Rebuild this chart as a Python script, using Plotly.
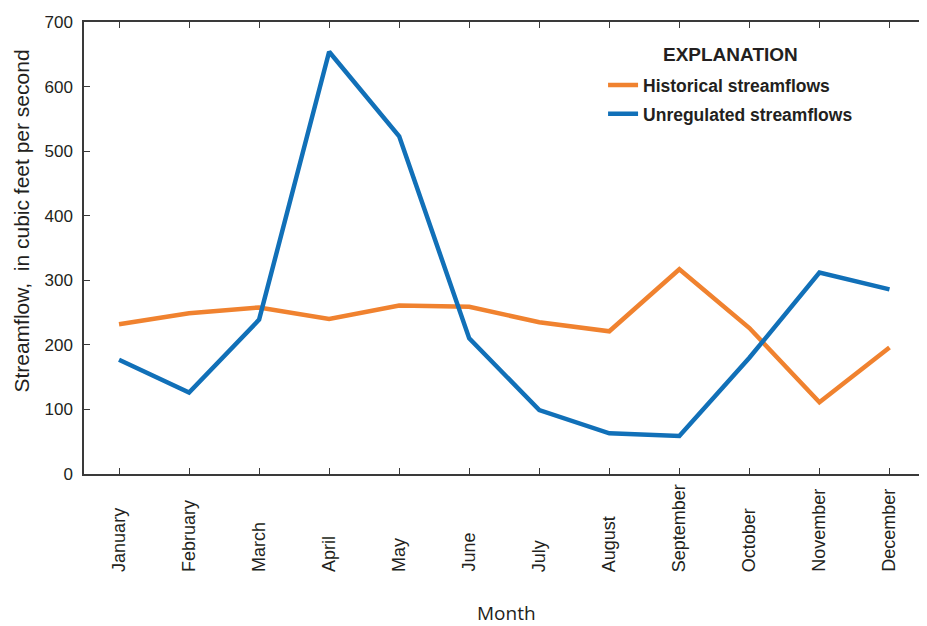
import plotly.graph_objects as go

months = ["January", "February", "March", "April", "May", "June",
          "July", "August", "September", "October", "November", "December"]
historical = [232, 249, 258, 240, 261, 259, 235, 221, 317, 226, 111, 196]
unregulated = [177, 126, 239, 654, 523, 210, 99, 63, 59, 180, 312, 286]
y_ticks = [0, 100, 200, 300, 400, 500, 600, 700]

ORANGE = "#F0822F"
BLUE = "#1170B8"
TXT = "#231F20"
AXIS = "#3a3a3a"
FONT = "Liberation Sans"

x_idx = list(range(len(months)))

fig = go.Figure()
fig.add_trace(go.Scatter(x=x_idx, y=historical, mode="lines", name="Historical streamflows",
                         legendgroup="hist", line=dict(color=ORANGE, width=4.5)))
fig.add_trace(go.Scatter(x=x_idx, y=unregulated, mode="lines", name="Unregulated streamflows",
                         legendgroup="unreg", line=dict(color=BLUE, width=4.5)))

# rotated month labels, aligned at their starts (bottom)
for i, m in enumerate(months):
    fig.add_annotation(x=i, xref="x", y=-0.221, yref="paper", text=m, textangle=-90,
                       showarrow=False, xanchor="center", yanchor="bottom",
                       font=dict(family=FONT, size=18, color=TXT))

fig.add_annotation(x=0.5, xref="paper", y=-0.308, yref="paper", text="Month",
                   showarrow=False, xanchor="center", yanchor="middle",
                   font=dict(family="Open Sans", size=19, color=TXT))
fig.add_annotation(x=-0.0738, xref="paper", y=0.56, yref="paper",
                   text="Streamflow,  in cubic feet per second", textangle=-90,
                   showarrow=False, xanchor="center", yanchor="middle",
                   font=dict(family=FONT, size=21, color=TXT))
fig.add_annotation(x=0.766, xref="paper", y=0.927, yref="paper", text="<b>EXPLANATION</b>",
                   showarrow=False, xanchor="center", yanchor="middle",
                   font=dict(family=FONT, size=19, color=TXT))

# the page body has an 8px margin; size the figure so the plot area lands where the reference has it
fig.update_layout(
    width=925, height=618,
    margin=dict(l=76, r=3, t=14, b=152),
    paper_bgcolor="white", plot_bgcolor="white",
    showlegend=True,
    legend=dict(
        x=0.615, y=0.900, xanchor="left", yanchor="top",
        bgcolor="rgba(0,0,0,0)",
        font=dict(family=FONT, size=17.5, color=TXT, weight="bold"),
        traceorder="grouped",
        tracegroupgap=3,
    ),
    xaxis=dict(
        range=[-0.5, 11.55], tickmode="array", tickvals=x_idx, showticklabels=False,
        ticks="inside", ticklen=6, tickwidth=1.3, tickcolor=AXIS,
        showline=True, linecolor=AXIS, linewidth=1.5, mirror="ticks",
        showgrid=False, zeroline=False,
    ),
    yaxis=dict(
        range=[0, 700], tickmode="array", tickvals=y_ticks,
        ticks="inside", ticklen=6, tickwidth=1.3, tickcolor=AXIS,
        showline=True, linecolor=AXIS, linewidth=1.5, mirror="ticks",
        showgrid=False, zeroline=False,
        tickfont=dict(family=FONT, size=17, color=TXT),
        ticklabelstandoff=6,
    ),
)

fig.write_html("out.html")
